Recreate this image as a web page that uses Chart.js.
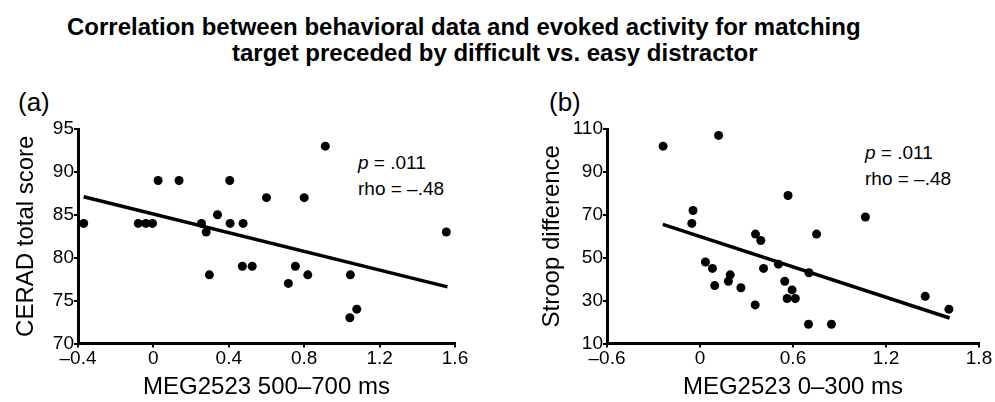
<!DOCTYPE html>
<html>
<head>
<meta charset="utf-8">
<script src="https://cdn.jsdelivr.net/npm/chart.js@4"></script>
<style>
	body { margin:0; width:995px; height:402px; background:#fff; position:relative; overflow:hidden; font-family:"Liberation Sans", Arial, sans-serif; color:#000; }
	.title { position:absolute; font-weight:bold; font-size:24px; line-height:24px; white-space:nowrap; }
	.panel { position:absolute; font-size:26px; line-height:26px; }
	.note { position:absolute; font-size:19px; line-height:26px; white-space:nowrap; }
	canvas { position:absolute; top:80px; }
</style>
</head>
<body>
<div class="title" style="left:67px;top:15px;">Correlation between behavioral data and evoked activity for matching</div>
<div class="title" style="left:232px;top:41px;">target preceded by difficult vs. easy distractor</div>
<div class="panel" style="left:18px;top:89px;">(a)</div>
<div class="panel" style="left:549px;top:89px;">(b)</div>
<div class="note" style="left:358px;top:150px;"><i>p</i> = .011<br>rho = &#8211;.48</div>
<div class="note" style="left:865px;top:140px;"><i>p</i> = .011<br>rho = &#8211;.48</div>
<canvas id="chartA" width="497" height="322" style="left:0px;"></canvas>
<canvas id="chartB" width="498" height="322" style="left:497px;"></canvas>
<script>
	// (a) CERAD total score vs MEG2523 500-700 ms
	var ptsAX = [ -0.37, -0.08, -0.04, -0.005, 0.025, 0.136, 0.255, 0.28, 0.297, 0.34, 0.405, 0.407, 0.476, 0.472, 0.524, 0.60, 0.80, 0.912, 0.753, 0.819, 0.716, 1.045, 1.079, 1.042, 1.554 ];
	var ptsAY = [ 84, 84, 84, 84, 89, 89, 84, 83, 78, 85, 89, 84, 84, 79, 79, 87, 87, 93, 79, 78, 77, 78, 74, 73, 83 ];
	var fitAX = [ -0.37, 1.56 ];
	var fitAY = [ 87.1, 76.6 ];
	var ticksAX = [ -0.4, 0, 0.4, 0.8, 1.2, 1.6 ];
	var ticksAY = [ 70, 75, 80, 85, 90, 95 ];

	// (b) Stroop difference vs MEG2523 0-300 ms
	var ptsBX = [ -0.238, 0.120, -0.045, -0.053, 0.568, 0.358, 0.392, 0.035, 0.08, 0.095, 0.195, 0.183, 0.264, 0.356, 0.41, 0.506, 0.547, 0.594, 0.562, 0.615, 1.067, 0.752, 0.703, 0.70, 0.848, 1.453, 1.606 ];
	var ptsBY = [ 102, 107, 72, 66, 79, 61, 58, 48, 45, 37, 42, 39, 36, 28, 45, 47, 39, 35, 31, 31, 69, 61, 43, 19, 19, 32, 26 ];
	var fitBX = [ -0.24, 1.61 ];
	var fitBY = [ 65.5, 21.9 ];
	var ticksBX = [ -0.6, 0, 0.6, 1.2, 1.8 ];
	var ticksBY = [ 10, 30, 50, 70, 90, 110 ];

	Chart.defaults.font.family = '"Liberation Sans", Arial, sans-serif';
	Chart.defaults.color = '#000';

	function pairs( xs, ys ){
		var out = [];
		for( var i = 0; i < xs.length; i++ ) out.push( { x: xs[ i ], y: ys[ i ] } );
		return out;
	}

	function fmt( v ){
		return ( new String( v ) ).replace( '-', '\u2013' );
	}

	function axis( ticks, title, fit, pad ){
		var horizontal = fit == 'height';
		return {
			type: 'linear',
			min: ticks[ 0 ],
			max: ticks[ ticks.length - 1 ],
			afterBuildTicks: function( s ){ s.ticks = ticks.map( function( v ){ return { value: v }; } ); },
			afterFit: function( s ){ s[ fit ] = pad.size; },
			border: { display: true, color: '#000', width: 3 },
			grid: { drawOnChartArea: false, color: '#000', lineWidth: 2, tickLength: 4 },
			ticks: { font: { size: 19 }, padding: 0, maxRotation: 0, autoSkip: false, callback: function( v ){ return fmt( v ); } },
			title: { display: true, text: title, font: { size: 24 }, padding: horizontal ? { top: 0, bottom: 0 } : { top: pad.title, bottom: 0 } }
		};
	}

	function make_panel( id, xs, ys, fx, fy, tx, ty, xTitle, yTitle, yWidth, yTitlePad, padRight ){
		return new Chart( document.getElementById( id ).getContext( '2d' ), {
			type: 'scatter',
			data: {
				datasets: [
					{ data: pairs( xs, ys ), backgroundColor: '#000', borderWidth: 0, pointRadius: 4.5, pointHoverRadius: 4.5, clip: false },
					{ data: pairs( fx, fy ), showLine: true, borderColor: '#000', borderWidth: 3.5, pointRadius: 0, fill: false, clip: false }
				]
			},
			options: {
				responsive: false,
				devicePixelRatio: 1,
				animation: false,
				layout: { padding: { top: 49, right: padRight, left: 0, bottom: 0 } },
				plugins: { legend: { display: false }, tooltip: { enabled: false } },
				scales: {
					x: axis( tx, xTitle, 'height', { size: 58.5 } ),
					y: axis( ty, yTitle, 'width', { size: yWidth, title: yTitlePad } )
				}
			}
		} );
	}

	make_panel( 'chartA', ptsAX, ptsAY, fitAX, fitAY, ticksAX, ticksAY, 'MEG2523 500\u2013700 ms', 'CERAD total score', 78, 12, 42 );
	make_panel( 'chartB', ptsBX, ptsBY, fitBX, fitBY, ticksBX, ticksBY, 'MEG2523 0\u2013300 ms', 'Stroop difference', 110, 41, 16 );
</script>
</body>
</html>
